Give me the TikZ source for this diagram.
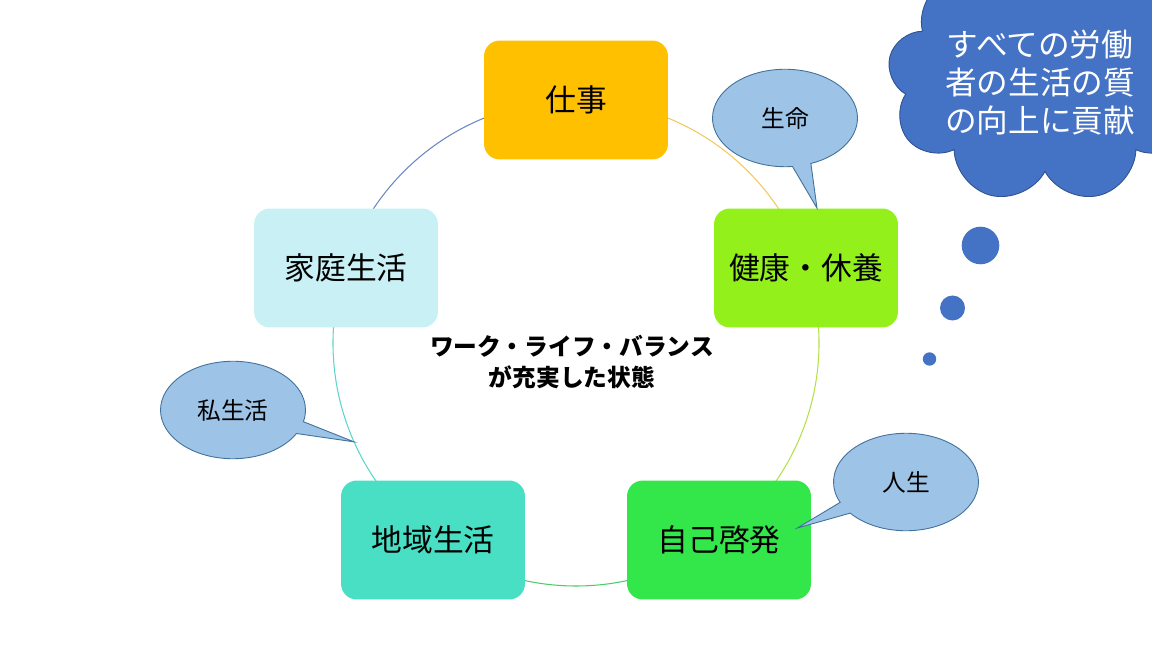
\documentclass[tikz,border=0pt]{standalone}
\usepackage{fontspec}
\setmainfont{Noto Sans CJK JP}
\usetikzlibrary{calc,shapes.callouts,shapes.symbols}
\definecolor{shigotoc}{HTML}{FFC000}
\definecolor{kenkoc}{HTML}{94F01A}
\definecolor{jikoc}{HTML}{33E64A}
\definecolor{chiikic}{HTML}{48DFC4}
\definecolor{kateic}{HTML}{C9F1F5}
\definecolor{bubblefill}{HTML}{9DC3E6}
\definecolor{bubbleline}{HTML}{41719C}
\definecolor{cloudfill}{HTML}{4472C4}
\definecolor{cloudline}{HTML}{2F528F}
\definecolor{arcA}{HTML}{F2C860}
\definecolor{arcB}{HTML}{B4E04A}
\definecolor{arcC}{HTML}{4CCB6A}
\definecolor{arcD}{HTML}{5CD6CC}
\definecolor{arcE}{HTML}{6A88C0}

\begin{document}
\begin{tikzpicture}[x=0.02cm,y=-0.02cm,
    box/.style={rounded corners=9pt, minimum width=3.68cm, minimum height=2.38cm,
        inner sep=0pt, font=\fontsize{17.5}{21}\selectfont},
    bubble/.style={ellipse callout, draw=bubbleline, fill=bubblefill, line width=0.5pt,
        minimum width=2.9cm, minimum height=1.95cm, inner sep=0pt,
        font=\fontsize{13.5}{16}\selectfont},
    ring/.style={line width=0.6pt}]
        \useasboundingbox (0,0) rectangle (1152,648);
        \clip (0,0) rectangle (1152,648);

        % cycle
        \coordinate (c) at (576,343);
        \draw[ring, arcA] ($(c)+(-90:243)$) arc[start angle=-90, end angle=-18, radius=243];
        \draw[ring, arcB] ($(c)+(-18:243)$) arc[start angle=-18, end angle=54, radius=243];
        \draw[ring, arcC] ($(c)+(54:243)$) arc[start angle=54, end angle=126, radius=243];
        \draw[ring, arcD] ($(c)+(126:243)$) arc[start angle=126, end angle=198, radius=243];
        \draw[ring, arcE] ($(c)+(198:243)$) arc[start angle=198, end angle=270, radius=243];

        \node[box, fill=shigotoc] (shigoto) at (576,100) {仕事};
        \node[box, fill=kenkoc] (kenko) at (806,268) {健康・休養};
        \node[box, fill=jikoc] (jiko) at (719,540) {自己啓発};
        \node[box, fill=chiikic] (chiiki) at (433,540) {地域生活};
        \node[box, fill=kateic] (katei) at (346,268) {家庭生活};

        \node[font=\bfseries\fontsize{13.5}{17.6}\selectfont, align=center] (wlb) at (572,362)
            {ワーク・ライフ・バランス\\が充実した状態};

        % callouts
        \coordinate (shiseikatsu tip) at ($(c)+(156:243)$);
        \node[bubble, callout absolute pointer={($(kenko.north)+(11,0)$)}] (seimei) at (785,118) {生命};
        \node[bubble, callout absolute pointer={(shiseikatsu tip)}] (shiseikatsu) at (233,410) {私生活};
        \node[bubble, callout absolute pointer={($(jiko.east)+(-14,-12)$)}] (jinsei) at (906,482) {人生};

        % thought cloud
        \node[cloud, cloud puffs=9, aspect=1.3, draw=cloudline, fill=cloudfill, line width=0.5pt,
            minimum width=6.3cm, minimum height=5cm] (kumo) at (1045,78) {};
        \node[text=white, align=center, font=\fontsize{18}{21.6}\selectfont] (kumotext) at (1040,83)
            {すべての労働\\者の生活の質\\の向上に貢献};
        \fill[cloudfill] (980.5,245.5) circle[radius=18.8];
        \fill[cloudfill] (952.5,308) circle[radius=12.5];
        \fill[cloudfill] (929.5,359) circle[radius=6.7];
\end{tikzpicture}
\end{document}
